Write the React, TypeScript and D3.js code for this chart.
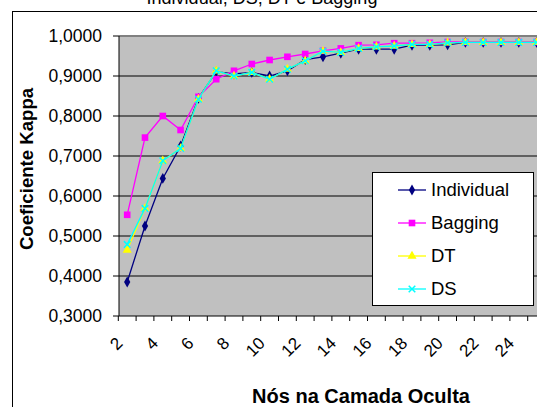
import * as d3 from 'd3';
import * as React from 'react';

const width = 537;
const height = 407;
const margin = { top: 36, left: 119, bottom: 316 };
const step = 17.8;

// nós na camada oculta (eixo de categorias)
const categories = [2, 3, 4, 5, 6, 7, 8, 9, 10, 11, 12, 13, 14, 15, 16, 17, 18, 19, 20, 21, 22, 23, 24, 25];
const tickLabels = ['2', '4', '6', '8', '10', '12', '14', '16', '18', '20', '22', '24'];
const yTicks = [0.3, 0.4, 0.5, 0.6, 0.7, 0.8, 0.9, 1.0];

const individual = [0.385, 0.525, 0.644, 0.725, 0.844, 0.911, 0.905, 0.909, 0.9, 0.913, 0.941, 0.948, 0.957, 0.967, 0.967, 0.967, 0.977, 0.977, 0.978, 0.984, 0.984, 0.984, 0.984, 0.984];
const bagging = [0.553, 0.746, 0.8, 0.765, 0.848, 0.892, 0.913, 0.93, 0.94, 0.948, 0.955, 0.963, 0.969, 0.977, 0.978, 0.982, 0.982, 0.983, 0.985, 0.985, 0.985, 0.985, 0.985, 0.985];
const dt = [0.465, 0.569, 0.688, 0.719, 0.842, 0.913, 0.9, 0.909, 0.892, 0.917, 0.938, 0.962, 0.959, 0.969, 0.973, 0.975, 0.979, 0.979, 0.983, 0.984, 0.984, 0.984, 0.984, 0.984];
const ds = [0.479, 0.569, 0.688, 0.719, 0.842, 0.913, 0.9, 0.909, 0.892, 0.917, 0.938, 0.962, 0.959, 0.969, 0.973, 0.975, 0.979, 0.979, 0.983, 0.984, 0.984, 0.984, 0.984, 0.984];

const series = [
  { name: 'Individual', values: individual, color: '#000080', symbol: d3.symbolDiamond, size: 34, stroke: false },
  { name: 'Bagging', values: bagging, color: '#FF00FF', symbol: d3.symbolSquare, size: 44, stroke: false },
  { name: 'DT', values: dt, color: '#FFFF00', symbol: d3.symbolTriangle, size: 36, stroke: false },
  { name: 'DS', values: ds, color: '#00FFFF', symbol: d3.symbolX, size: 30, stroke: true },
];

const font = 'Arial, "Liberation Sans", sans-serif';

export default () => {
  const x = d3
    .scaleBand<number>()
    .domain(categories)
    .range([margin.left - 0.7, margin.left - 0.7 + categories.length * step]);
  const cx = (c: number) => (x(c) as number) + x.bandwidth() / 2;

  const y = d3.scaleLinear().domain([0.3, 1.0]).range([margin.bottom, margin.top]);

  const line = d3
    .line<number>()
    .x((_, i) => cx(categories[i]))
    .y(d => y(d));

  const plotRight = x.range()[1];

  return (
    <svg
      width={width}
      height={height}
      style={{ position: 'absolute', left: 0, top: 0 }}
      fontFamily={font}
    >
      <rect x={0} y={0} width={width} height={height} fill="#fff" />
      <text x={262} y={4} textAnchor="middle" fontSize={18} fill="#000">
        Individual, DS, DT e Bagging
      </text>
      <rect x={12.5} y={11.5} width={600} height={420} fill="#fff" stroke="#000" strokeWidth={1} />

      {/* plot area */}
      <rect x={margin.left} y={margin.top} width={plotRight - margin.left} height={margin.bottom - margin.top} fill="#C0C0C0" />
      {yTicks.slice(1, -1).map(t => (
        <line key={t} x1={margin.left} x2={plotRight} y1={y(t)} y2={y(t)} stroke="#000" strokeWidth={1} />
      ))}
      <line x1={margin.left} x2={plotRight} y1={y(1.0)} y2={y(1.0)} stroke="#808080" strokeWidth={2} />

      {/* y axis */}
      <line x1={margin.left} x2={margin.left} y1={margin.top} y2={margin.bottom} stroke="#000" />
      {yTicks.map(t => (
        <g key={t}>
          <line x1={margin.left - 6} x2={margin.left} y1={y(t)} y2={y(t)} stroke="#000" />
          <text x={102} y={y(t)} dy="0.36em" textAnchor="end" fontSize={17.5} fill="#000">
            {t.toFixed(4).replace('.', ',')}
          </text>
        </g>
      ))}

      {/* x axis */}
      <line x1={margin.left} x2={plotRight} y1={margin.bottom} y2={margin.bottom} stroke="#000" />
      {categories.concat([categories[categories.length - 1] + 1]).map(c => {
        const xx = c === 26 ? plotRight : (x(c) as number);
        return <line key={c} x1={xx} x2={xx} y1={margin.bottom} y2={margin.bottom + 5} stroke="#000" />;
      })}
      {tickLabels.map(l => (
        <text
          key={l}
          transform={`translate(${cx(+l) - 12},${margin.bottom + 20}) rotate(-45)`}
          textAnchor="end"
          dy="0.7em"
          fontSize={17}
          fill="#000"
        >
          {l}
        </text>
      ))}

      {/* series */}
      {series.map(s => (
        <g key={s.name}>
          <path d={line(s.values) || ''} fill="none" stroke={s.color} strokeWidth={1.3} />
          {s.values.map((v, i) => (
            <path
              key={i}
              transform={`translate(${cx(categories[i])},${y(v)})`}
              d={d3.symbol(s.symbol, s.size)() || ''}
              fill={s.stroke ? 'none' : s.color}
              stroke={s.stroke ? s.color : 'none'}
              strokeWidth={1.5}
            />
          ))}
        </g>
      ))}

      {/* legend */}
      <rect x={372.5} y={172.5} width={161} height={133} fill="#fff" stroke="#000" />
      {series.map((s, i) => {
        const ly = 190 + i * 33;
        return (
          <g key={s.name}>
            <line x1={398} x2={426} y1={ly} y2={ly} stroke={s.color} strokeWidth={1.3} />
            <path
              transform={`translate(412,${ly})`}
              d={d3.symbol(s.symbol, s.size)() || ''}
              fill={s.stroke ? 'none' : s.color}
              stroke={s.stroke ? s.color : 'none'}
              strokeWidth={1.5}
            />
            <text x={431} y={ly} dy="0.35em" fontSize={18.5} fill="#000">
              {s.name}
            </text>
          </g>
        );
      })}

      {/* axis titles */}
      <text
        transform={`translate(33,169) rotate(-90)`}
        textAnchor="middle"
        fontSize={18.6}
        fontWeight="bold"
        fill="#000"
      >
        Coeficiente Kappa
      </text>
      <text x={361} y={403} textAnchor="middle" fontSize={20} fontWeight="bold" fill="#000">
        Nós na Camada Oculta
      </text>
    </svg>
  );
};
